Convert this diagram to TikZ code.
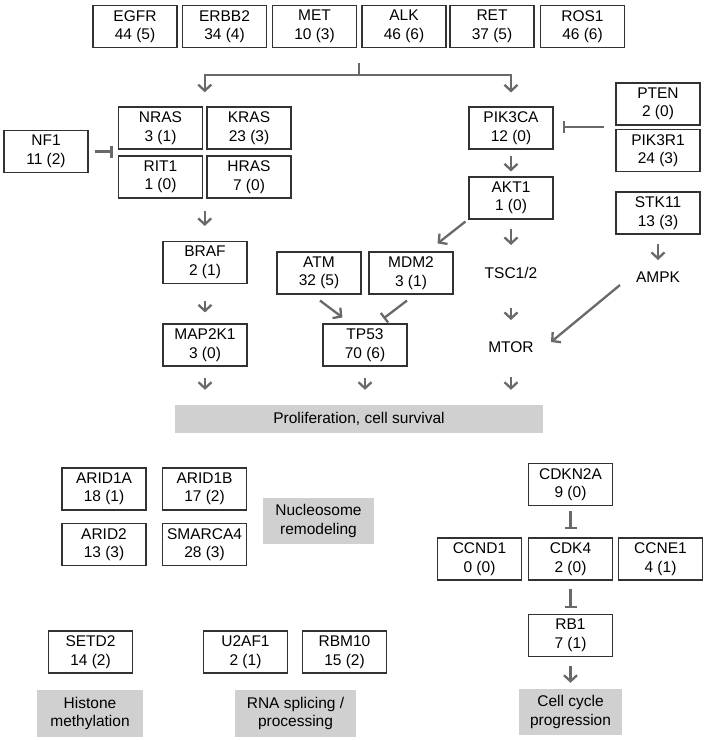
\documentclass[tikz,border=0pt]{standalone}
\usepackage{fontspec}
\setmainfont{Liberation Sans}
\usetikzlibrary{arrows.meta,calc,fit}
\definecolor{arrgray}{RGB}{105,105,105}
\definecolor{boxedge}{RGB}{50,50,50}
\definecolor{procgray}{RGB}{208,208,208}
\newcommand{\gnfont}{\fontsize{15.5}{18.5}\selectfont}
\begin{document}
\begin{tikzpicture}[x=1pt,y=-1pt,
 gene/.style={draw=boxedge, line width=1.1pt, fill=white, minimum width=84pt, minimum height=42pt, inner sep=0pt, align=center, font=\gnfont},
 proc/.style={fill=procgray, inner sep=0pt, align=center, font=\gnfont},
 lbl/.style={inner sep=0pt, font=\gnfont},
 arr/.style={draw=arrgray, line width=2.3pt, -{Straight Barb[length=6pt,width=13pt]}},
 inh/.style={draw=arrgray, line width=2.3pt, -{Bar[width=12pt]}},
 grp/.style={inner sep=0pt, draw=none}]
\useasboundingbox[fill=white] (0,0) rectangle (709,740);
% receptor tyrosine kinases
\node[gene] (EGFR)  at (135,26.5)   {EGFR\\44 (5)};
\node[gene] (ERBB2) at (224.5,26.5) {ERBB2\\34 (4)};
\node[gene] (MET)   at (314.5,26.5) {MET\\10 (3)};
\node[gene] (ALK)   at (404,26.5)   {ALK\\46 (6)};
\node[gene] (RET)   at (492,26.5)   {RET\\37 (5)};
\node[gene] (ROS1)  at (582.5,26.5) {ROS1\\46 (6)};
% RAS branch
\node[gene] (NRAS) at (160.5,128) {NRAS\\3 (1)};
\node[gene] (KRAS) at (249,128)   {KRAS\\23 (3)};
\node[gene] (RIT1) at (160.5,177) {RIT1\\1 (0)};
\node[gene] (HRAS) at (249,177)   {HRAS\\7 (0)};
\node[gene] (NF1)  at (46,151.5)  {NF1\\11 (2)};
\node[gene] (BRAF) at (205,262.5) {BRAF\\2 (1)};
\node[gene] (MAP2K1) at (205,345) {MAP2K1\\3 (0)};
% TP53
\node[gene] (ATM)  at (319,273) {ATM\\32 (5)};
\node[gene] (MDM2) at (411,273) {MDM2\\3 (1)};
\node[gene] (TP53) at (365,345) {TP53\\70 (6)};
% PI3K branch
\node[gene] (PIK3CA) at (511,128) {PIK3CA\\12 (0)};
\node[gene] (AKT1)   at (511,198) {AKT1\\1 (0)};
\node[gene] (PTEN)   at (658,104) {PTEN\\2 (0)};
\node[gene] (PIK3R1) at (658,150.5) {PIK3R1\\24 (3)};
\node[gene] (STK11)  at (658,213) {STK11\\13 (3)};
\node[lbl] (TSC)  at (511,273) {TSC1/2};
\node[lbl] (MTOR) at (511,347) {MTOR};
\node[lbl] (AMPK) at (658,277) {AMPK};
\node[proc, minimum width=368pt, minimum height=28pt] (prolif) at (359,419) {Proliferation, cell survival};
% nucleosome
\node[gene] (ARID1A)  at (104,489)     {ARID1A\\18 (1)};
\node[gene] (ARID1B)  at (204.5,489)   {ARID1B\\17 (2)};
\node[gene] (ARID2)   at (104,544.5)   {ARID2\\13 (3)};
\node[gene] (SMARCA4) at (204.5,544.5) {SMARCA4\\28 (3)};
\node[proc, minimum width=111pt, minimum height=46pt] (nucl) at (318.5,521) {Nucleosome\\remodeling};
% cell cycle
\node[gene] (CDKN2A) at (570.5,484.5) {CDKN2A\\9 (0)};
\node[gene] (CCND1)  at (479.5,559)   {CCND1\\0 (0)};
\node[gene] (CDK4)   at (570.5,559)   {CDK4\\2 (0)};
\node[gene] (CCNE1)  at (660.5,559)   {CCNE1\\4 (1)};
\node[gene] (RB1)    at (570.5,635.5) {RB1\\7 (1)};
\node[proc, minimum width=103pt, minimum height=46pt] (cellcyc) at (570.5,712) {Cell cycle\\progression};
% histone / RNA
\node[gene] (SETD2) at (90.5,652)  {SETD2\\14 (2)};
\node[gene] (U2AF1) at (245.5,652) {U2AF1\\2 (1)};
\node[gene] (RBM10) at (344.5,652) {RBM10\\15 (2)};
\node[proc, minimum width=106pt, minimum height=47pt] (histone) at (90,713.5) {Histone\\methylation};
\node[proc, minimum width=121pt, minimum height=47pt] (rna) at (295.5,713.5) {RNA splicing /\\processing};
% groups
\node[grp, fit=(EGFR)(ROS1)] (rtk) {};
\node[grp, fit=(NRAS)(HRAS)] (ras) {};
\node[grp, fit=(PTEN)(PIK3R1)] (pgrp) {};
% connectors
\coordinate (br) at ($(rtk.south)+(0,27)$);
\draw[arr] ($(rtk.south)+(0,15)$) -- (br) -| ($(ras.north)+(0,-14)$);
\draw[arr] (br) -| ($(PIK3CA.north)+(0,-14)$);
\draw[inh, shorten <=6pt, shorten >=5pt] (NF1.east) -- (NF1.east -| ras.west);
\draw[arr, shorten <=12pt, shorten >=15pt] (ras.south) -- (ras.south |- BRAF.north);
\draw[arr, shorten <=17pt, shorten >=11pt] (BRAF.south) -- (MAP2K1.north);
\draw[arr, shorten <=11pt, shorten >=15pt] (MAP2K1.south) -- (MAP2K1.south |- prolif.north);
\draw[arr, shorten <=11pt, shorten >=15pt] (TP53.south) -- (TP53.south |- prolif.north);
\draw[arr, shorten <=30pt, shorten >=15pt] (MTOR.center) -- (MTOR.center |- prolif.north);
\draw[arr, shorten <=35pt, shorten >=27pt] (TSC.center) -- (MTOR.center);
\draw[arr, shorten <=9pt, shorten >=28pt] (AKT1.south) -- (TSC.center);
\draw[arr, shorten <=6pt, shorten >=5pt] (PIK3CA.south) -- (AKT1.north);
\draw[inh, shorten <=11pt, shorten >=9pt] (pgrp.west) -- (pgrp.west -| PIK3CA.east);
\draw[arr, shorten <=9pt, shorten >=17pt] (STK11.south) -- (AMPK.center);
\draw[arr] ($(AMPK.center)+(-38,8)$) -- ($(MTOR.center)+(40,-5)$);
\draw[arr] ($(AKT1.south west)+(-3,2)$) -- ($(MDM2.north east)+(-16,-8)$);
\draw[arr] ($(ATM.south)+(1,6)$) -- ($(TP53.north west)+(20,-6)$);
\draw[inh] ($(MDM2.south)+(-4,6)$) -- ($(TP53.north east)+(-24,-5)$);
\draw[inh, shorten <=5pt, shorten >=8pt] (CDKN2A.south) -- (CDK4.north);
\draw[inh, shorten <=8pt, shorten >=6pt] (CDK4.south) -- (RB1.north);
\draw[arr, shorten <=9pt, shorten >=6pt] (RB1.south) -- (cellcyc.north);
\end{tikzpicture}
\end{document}
